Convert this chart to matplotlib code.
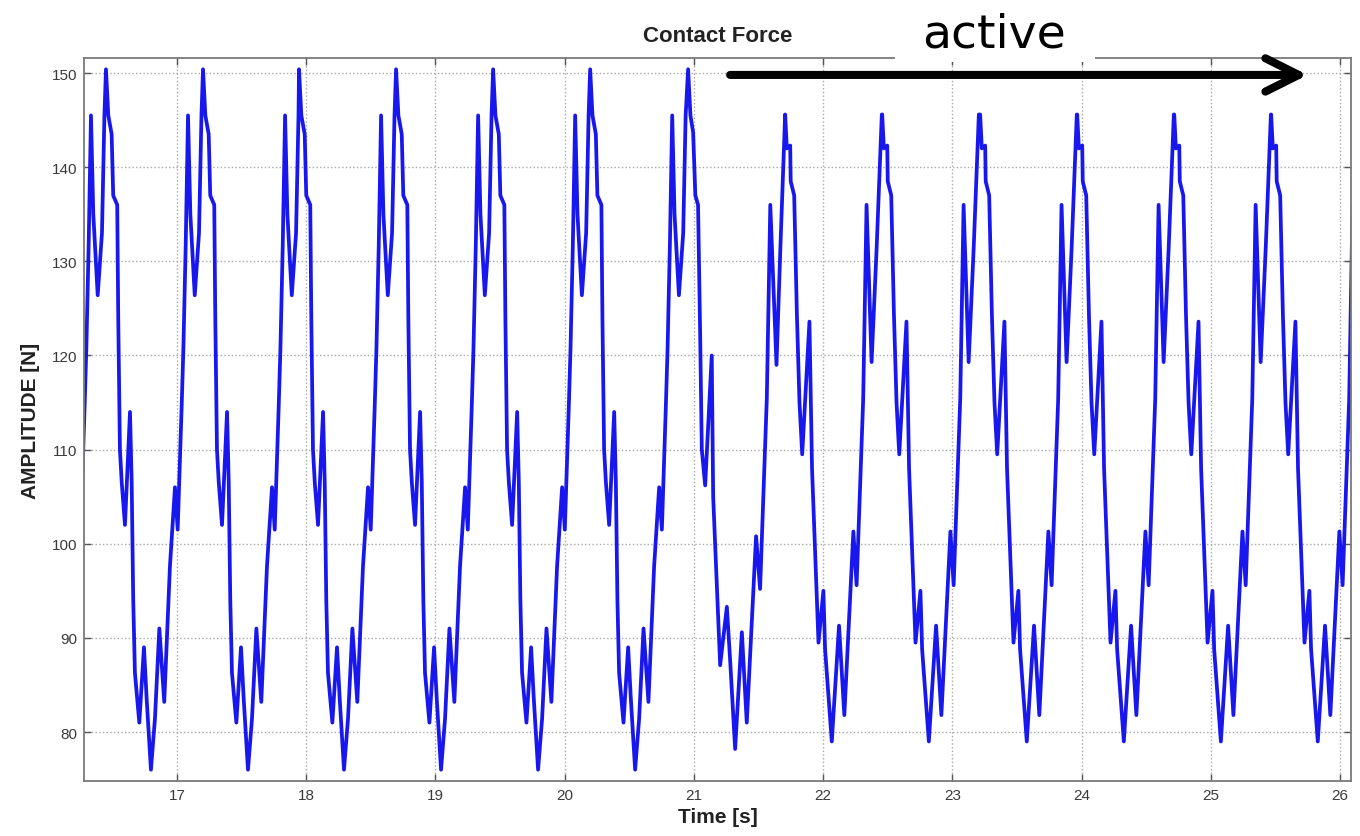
import numpy as np
import matplotlib
matplotlib.use("Agg")
import matplotlib.pyplot as plt
from matplotlib.patches import Rectangle

plt.rcParams["font.family"] = ["Liberation Sans", "DejaVu Sans"]

# ─────────────────────────────────────────────
# DATA
# ─────────────────────────────────────────────

# one passive cycle, time after the 150 N peak [s] -> force [N]
passive_phase = [0.000, 0.018, 0.044, 0.056, 0.087, 0.095, 0.108, 0.122, 0.147, 0.186,
                 0.199, 0.211, 0.224, 0.258, 0.294, 0.315, 0.348, 0.379, 0.413, 0.451,
                 0.495, 0.534, 0.555, 0.586, 0.599, 0.617, 0.635, 0.653, 0.687, 0.720,
                 0.739, 0.751]
passive_force = [150.4, 145.5, 143.5, 137.0, 136.0, 124.0, 110.0, 106.5, 102.0, 114.0,
                 106.5, 94.0, 86.3, 81.0, 89.0, 83.5, 76.0, 81.4, 91.0, 83.2,
                 97.6, 106.0, 101.5, 114.7, 120.7, 131.7, 145.5, 135.0, 126.4, 133.0,
                 145.5, 150.4]

# cycle where the control switches on
transition_phase = [0.000, 0.018, 0.039, 0.056, 0.077, 0.093, 0.106, 0.132, 0.183, 0.194,
                    0.248, 0.300, 0.325, 0.364, 0.416, 0.454, 0.526, 0.557, 0.609, 0.636,
                    0.684, 0.714, 0.751]
transition_force = [150.4, 145.5, 143.7, 137.0, 136.0, 122.5, 110.0, 106.2, 120.0, 105.0,
                    87.1, 93.3, 87.7, 78.2, 90.6, 81.0, 100.8, 95.2, 115.4, 136.0,
                    119.0, 131.4, 145.6]

# one active cycle, time after the 145 N peak
active_phase = [0.000, 0.013, 0.039, 0.043, 0.070, 0.091, 0.111, 0.132, 0.188, 0.208,
                0.258, 0.296, 0.309, 0.361, 0.417, 0.458, 0.528, 0.553, 0.604, 0.630,
                0.669, 0.708, 0.748]
active_force = [145.6, 142.0, 142.3, 138.5, 137.0, 124.3, 115.0, 109.5, 123.6, 108.0,
                89.5, 95.0, 88.8, 79.0, 91.3, 81.8, 101.3, 95.6, 115.4, 136.0,
                119.3, 131.4, 145.6]

passive_peaks = [15.699, 16.450, 17.201, 17.944, 18.695, 19.446, 20.197]
transition_peak = 20.955
active_peaks = [21.706, 22.457, 23.215, 23.966, 24.717, 25.467]

x_ticks = [17, 18, 19, 20, 21, 22, 23, 24, 25, 26]
y_ticks = [80, 90, 100, 110, 120, 130, 140, 150]

# ─────────────────────────────────────────────
# BUILD SIGNAL
# ─────────────────────────────────────────────

t_parts, f_parts = [], []
for tp in passive_peaks:
    t_parts.append(tp + np.array(passive_phase[:-1]))
    f_parts.append(np.array(passive_force[:-1]))
t_parts.append(transition_peak + np.array(transition_phase[:-1]))
f_parts.append(np.array(transition_force[:-1]))
for tp in active_peaks:
    t_parts.append(tp + np.array(active_phase))
    f_parts.append(np.array(active_force))

time = np.concatenate(t_parts)
force = np.concatenate(f_parts)

# ─────────────────────────────────────────────
# PLOT
# ─────────────────────────────────────────────

fig = plt.figure(figsize=(13.6, 8.37), dpi=100)
ax = fig.add_axes([84 / 1360, 1 - 782 / 837, 1267 / 1360, 723 / 837])

ax.plot(time, force, color="#1818ee", lw=2.7,
        solid_joinstyle="round", solid_capstyle="round")

ax.set_xlim(16.28, 26.085)
ax.set_ylim(74.8, 151.6)
ax.set_xticks(x_ticks)
ax.set_yticks(y_ticks)

ax.grid(True, linestyle=":", color="#a8a8a8", lw=1.0)
for s in ax.spines.values():
    s.set_color("#7a7a7a")
    s.set_linewidth(1.3)
ax.tick_params(direction="in", top=True, right=True, length=5, width=1,
               color="#555555", labelsize=11, labelcolor="#3a3a3a", pad=5)

ax.set_title("Contact Force", fontsize=16, fontweight="bold", color="#222222", pad=12)
ax.set_xlabel("Time [s]", fontsize=15, fontweight="bold", color="#222222", labelpad=4)
ax.set_ylabel("AMPLITUDE [N]", fontsize=15, fontweight="bold", color="#222222", labelpad=8)

# "active" arrow over the controlled part
ax.annotate("", xy=(25.75, 149.8), xytext=(21.28, 149.8), annotation_clip=False,
            arrowprops=dict(arrowstyle="->,head_length=1.2,head_width=0.6",
                            lw=5.8, color="black", mutation_scale=20,
                            shrinkA=0, shrinkB=0, capstyle="round", joinstyle="round"))

fig.add_artist(Rectangle((895 / 1360, 1 - 63 / 837), 200 / 1360, 63 / 837,
                         transform=fig.transFigure, facecolor="white",
                         edgecolor="none", zorder=5))
fig.text(994 / 1360, 1 - 48 / 837, "active", fontsize=34, family="DejaVu Sans",
         ha="center", va="baseline", color="black", zorder=6)

fig.savefig("out.png", dpi=100)
